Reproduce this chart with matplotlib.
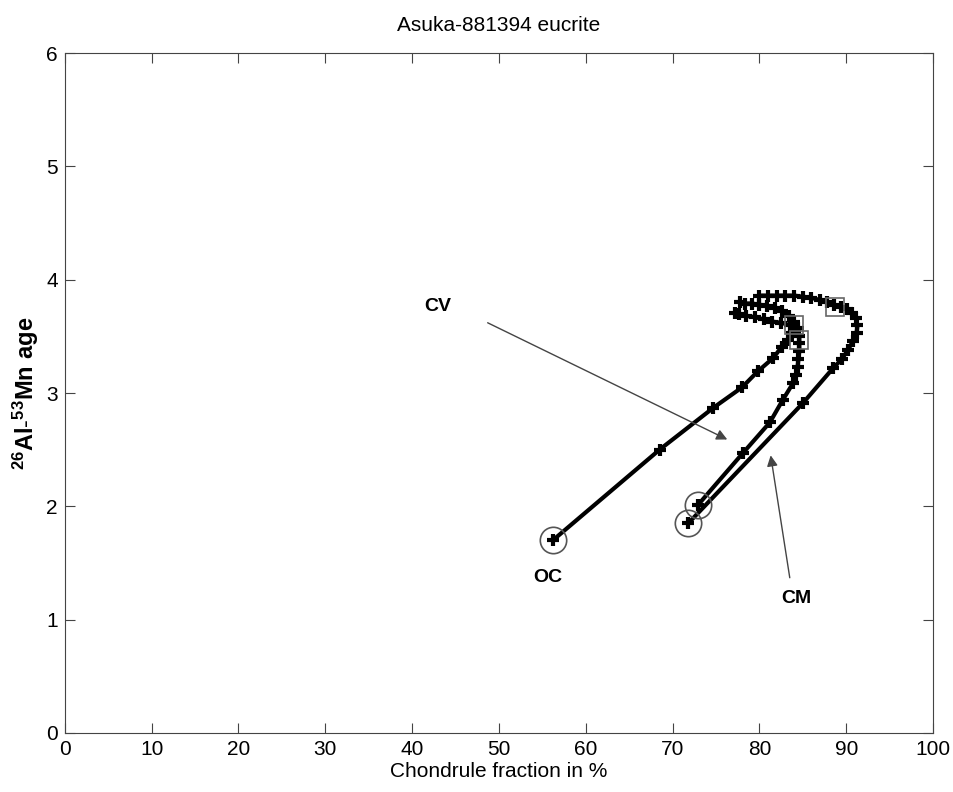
import matplotlib
matplotlib.use("Agg")
import matplotlib.pyplot as plt

plt.rcParams['font.family'] = ['Liberation Sans', 'DejaVu Sans']
plt.rcParams['mathtext.fontset'] = 'custom'
plt.rcParams['mathtext.rm'] = 'Liberation Sans'
plt.rcParams['mathtext.bf'] = 'Liberation Sans:bold'

title = "Asuka-881394 eucrite"
xlabel = "Chondrule fraction in %"
ylabel = r"$\mathbf{^{26}Al\text{-}^{53}Mn\ age}$"

oc_x = [56.2, 68.5, 74.7, 78.0, 79.8, 81.6, 82.6, 83.3, 83.8, 84.0, 83.5, 82.5, 81.5, 80.5, 79.5, 78.5, 77.6, 77.2]
oc_y = [1.70, 2.50, 2.87, 3.05, 3.19, 3.31, 3.41, 3.47, 3.53, 3.58, 3.60, 3.62, 3.63, 3.65, 3.67, 3.68, 3.70, 3.71]
oc_sq = (84.0, 3.60)

cv_x = [72.9, 78.1, 81.2, 82.7, 83.9, 84.2, 84.4, 84.5, 84.6, 84.6, 84.6, 84.4, 84.0, 83.4, 82.6, 81.8, 80.9, 80.0, 79.1, 78.3, 77.8]
cv_y = [2.01, 2.47, 2.74, 2.94, 3.09, 3.16, 3.23, 3.30, 3.37, 3.44, 3.50, 3.57, 3.63, 3.68, 3.72, 3.75, 3.77, 3.78, 3.79, 3.79, 3.80]
cv_sq = (84.6, 3.47)

cm_x = [71.8, 85.0, 88.5, 89.5, 90.2, 90.8, 91.2, 91.3, 91.1, 90.7, 90.1, 89.4, 88.6, 87.8, 87.0, 86.0, 85.0, 84.0, 83.0, 82.0, 81.0, 80.0]
cm_y = [1.85, 2.91, 3.22, 3.30, 3.38, 3.46, 3.53, 3.60, 3.66, 3.71, 3.74, 3.76, 3.78, 3.80, 3.82, 3.84, 3.85, 3.86, 3.86, 3.86, 3.86, 3.86]
cm_sq = (88.7, 3.76)

labels = ["OC", "CV", "CM"]
label_pos = [(55.6, 1.37), (43.0, 3.76), (84.3, 1.19)]
arrow_cv = ((48.7, 3.62), (76.3, 2.59))
arrow_cm = ((83.5, 1.37), (81.3, 2.45))

fig = plt.figure(figsize=(9.54, 7.92), dpi=100)
ax = fig.add_axes([0.068, 0.0745, 0.910, 0.8585])

for xs, ys, sq in [(oc_x, oc_y, oc_sq), (cv_x, cv_y, cv_sq), (cm_x, cm_y, cm_sq)]:
    ax.plot(xs, ys, color='black', lw=3, marker='+', ms=9, mew=3, zorder=3)
    ax.plot(xs[0], ys[0], marker='o', ms=19, mfc='none', mec='#555555', mew=1.2, zorder=4)
    ax.plot(sq[0], sq[1], marker='s', ms=13, mfc='none', mec='#666666', mew=1.2, zorder=4)

for lab, (lx, ly) in zip(labels, label_pos):
    ax.text(lx, ly, lab, fontsize=14, fontweight='bold', ha='center', va='center')

for (start, end) in [arrow_cv, arrow_cm]:
    ax.annotate('', xy=end, xytext=start,
                arrowprops=dict(arrowstyle='-|>', color='#444444', lw=1.0,
                                mutation_scale=16, shrinkA=0, shrinkB=0))

ax.set_xlim(0, 100)
ax.set_ylim(0, 6)
ax.set_xticks(range(0, 101, 10))
ax.set_yticks(range(0, 7))
ax.tick_params(direction='in', top=True, right=True, length=7, labelsize=15,
               color='#444444', pad=5)
for s in ax.spines.values():
    s.set_color('#444444')
ax.set_title(title, fontsize=15, pad=16)
ax.set_xlabel(xlabel, fontsize=15, labelpad=2)
ax.set_ylabel(ylabel, fontsize=17, labelpad=4)

fig.savefig("out.png", dpi=100)
